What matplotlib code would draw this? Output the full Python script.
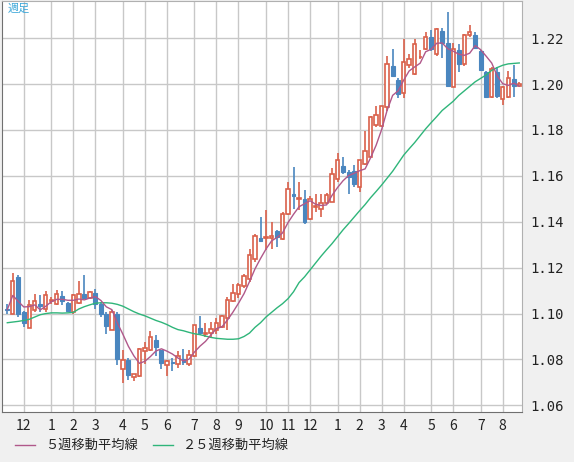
import matplotlib
matplotlib.use("Agg")
import matplotlib.pyplot as plt
import numpy as np
import pandas as pd

plt.rcParams['font.family'] = ['Noto Sans CJK JP', 'DejaVu Sans']

opens = [1.1022,1.0996,1.1160,1.1007,1.0935,1.1017,1.1040,1.1022,1.1055,1.1043,1.1075,1.1046,1.1007,1.1048,1.1087,1.1068,1.1090,1.1043,1.1000,1.0928,
         1.1000,1.0758,1.0796,1.0722,1.0729,1.0838,1.0839,1.0885,1.0842,1.0777,1.0789,1.0780,1.0801,1.0780,1.0816,1.0939,1.0912,1.0914,1.0929,1.0943,
         1.0980,1.1055,1.1085,1.1120,1.1149,1.1238,1.1330,1.1330,1.1330,1.1358,1.1326,1.1435,1.1522,1.1499,1.1500,1.1413,1.1464,1.1457,1.1481,1.1486,
         1.1587,1.1645,1.1616,1.1623,1.1551,1.1652,1.1684,1.1823,1.1819,1.1899,1.2080,1.2017,1.1959,1.2083,1.2046,1.2116,1.2152,1.2206,1.2130,1.2232,
         1.2178,1.1988,1.2148,1.2087,1.2213,1.2214,1.2145,1.2051,1.1945,1.2051,1.1935,1.1945,1.2022,1.1993]
closes = [1.1017,1.1141,1.1000,1.0957,1.1036,1.1054,1.1033,1.1080,1.1056,1.1087,1.1054,1.1012,1.1080,1.1084,1.1068,1.1094,1.1043,1.0996,1.0945,1.1007,
          1.0804,1.0797,1.0733,1.0736,1.0845,1.0849,1.0900,1.0854,1.0784,1.0794,1.0786,1.0813,1.0791,1.0820,1.0951,1.0914,1.0917,1.0933,1.0958,1.0991,
          1.1060,1.1091,1.1125,1.1165,1.1255,1.1338,1.1316,1.1332,1.1340,1.1333,1.1435,1.1543,1.1512,1.1504,1.1399,1.1500,1.1468,1.1483,1.1517,1.1609,
          1.1670,1.1616,1.1594,1.1565,1.1667,1.1710,1.1858,1.1867,1.1906,1.2087,1.2036,1.1957,1.2097,1.2109,1.2174,1.2118,1.2206,1.2152,1.2239,1.2181,
          1.1993,1.2152,1.2087,1.2213,1.2228,1.2159,1.2061,1.1945,1.2065,1.1949,1.1988,1.2025,1.1993,1.1999]
highs = [1.1043,1.1177,1.1167,1.1010,1.1058,1.1084,1.1080,1.1097,1.1070,1.1101,1.1097,1.1050,1.1087,1.1143,1.1170,1.1098,1.1109,1.1050,1.1007,1.1014,
         1.1007,1.0840,1.0806,1.0736,1.0852,1.0878,1.0922,1.0907,1.0842,1.0799,1.0806,1.0838,1.0845,1.0842,1.0951,1.0990,1.0958,1.0965,1.0980,1.0994,
         1.1074,1.1128,1.1132,1.1171,1.1280,1.1345,1.1419,1.1450,1.1400,1.1362,1.1442,1.1572,1.1638,1.1572,1.1539,1.1514,1.1522,1.1522,1.1526,1.1635,
         1.1699,1.1681,1.1626,1.1649,1.1670,1.1797,1.1862,1.1906,1.1906,1.2123,1.2152,1.2025,1.2196,1.2130,1.2196,1.2148,1.2229,1.2236,1.2246,1.2243,
         1.2316,1.2181,1.2174,1.2217,1.2258,1.2225,1.2150,1.2055,1.2075,1.2075,1.1990,1.2058,1.2083,1.2008]
lows = [1.1000,1.0996,1.0986,1.0940,1.0935,1.1007,1.1007,1.1007,1.1040,1.1036,1.1036,1.1007,1.1000,1.1043,1.1064,1.1064,1.1020,1.0986,1.0910,1.0928,
        1.0775,1.0696,1.0712,1.0704,1.0723,1.0781,1.0835,1.0817,1.0758,1.0729,1.0748,1.0762,1.0777,1.0770,1.0809,1.0907,1.0900,1.0893,1.0910,1.0939,
        1.0929,1.1052,1.1067,1.1110,1.1139,1.1226,1.1313,1.1275,1.1283,1.1290,1.1319,1.1428,1.1457,1.1450,1.1391,1.1406,1.1442,1.1420,1.1478,1.1486,
        1.1572,1.1609,1.1522,1.1551,1.1529,1.1649,1.1681,1.1812,1.1812,1.1884,1.2029,1.1939,1.1939,1.2072,1.2039,1.2110,1.2148,1.2145,1.2123,1.2113,
        1.1986,1.1986,1.2051,1.2080,1.2206,1.2152,1.2058,1.1942,1.1939,1.1939,1.1909,1.1939,1.1942,1.1990]
ma25 = [1.0960,1.0963,1.0966,1.0970,1.0975,1.0985,1.0995,1.1000,1.1003,1.1003,1.1002,1.1003,1.1005,1.1020,1.1030,1.1038,1.1045,1.1047,1.1047,1.1045,
        1.1040,1.1032,1.1020,1.1008,1.0998,1.0990,1.0980,1.0970,1.0962,1.0952,1.0940,1.0930,1.0925,1.0918,1.0912,1.0908,1.0902,1.0896,1.0892,1.0890,
        1.0888,1.0888,1.0890,1.0900,1.0915,1.0940,1.0960,1.0985,1.1005,1.1025,1.1043,1.1065,1.1095,1.1135,1.1160,1.1190,1.1220,1.1250,1.1278,1.1305,
        1.1335,1.1365,1.1392,1.1420,1.1448,1.1475,1.1505,1.1532,1.1560,1.1590,1.1620,1.1655,1.1690,1.1718,1.1745,1.1775,1.1805,1.1832,1.1858,1.1885,
        1.1905,1.1925,1.1950,1.1970,1.1990,1.2010,1.2025,1.2040,1.2060,1.2072,1.2082,1.2088,1.2090,1.2092]
tick_idx = [3,8,12,16,21,25,29,34,38,42,47,51,55,60,64,68,72,77,81,86,90]
tick_labels = ['12','1','2','3','4','5','6','7','8','9','10','11','12','1','2','3','4','5','6','7','8']
y_ticks = [1.06,1.08,1.10,1.12,1.14,1.16,1.18,1.20,1.22]

ma5 = pd.Series(closes).rolling(5, min_periods=1).mean()

RED = '#d9604a'; BLUE = '#4a86bf'
fig = plt.figure(figsize=(5.74,4.62), dpi=100)
fig.patch.set_facecolor('#f0f0f0')
ax = fig.add_axes([2/574, 50/462, 520/574, 411/462])
ax.set_facecolor('white')
n = len(closes)
x = np.arange(n)
ax.grid(True, color='#c8c8c8', lw=1)
ax.set_axisbelow(True)
for i in range(n):
    o, c, h, l = opens[i], closes[i], highs[i], lows[i]
    up = c >= o
    col = RED if up else BLUE
    top, bot = max(o, c), min(o, c)
    ax.vlines(x[i], top, h, color=col, lw=1.2, zorder=2)
    ax.vlines(x[i], l, bot, color=col, lw=1.2, zorder=2)
    hgt = max(top - bot, 0.0002)
    if up:
        ax.add_patch(plt.Rectangle((x[i]-0.3, bot), 0.6, hgt, facecolor='white', edgecolor=col, lw=1.2, zorder=3))
    else:
        ax.add_patch(plt.Rectangle((x[i]-0.35, bot), 0.7, hgt, facecolor=col, edgecolor=col, lw=0.8, zorder=3))
ax.plot(x, ma25, color='#2fb57a', lw=1, zorder=4)
ax.plot(x, ma5, color='#b0588a', lw=1, zorder=4)
ax.set_xlim(-0.96, 93.5)
ax.set_ylim(1.0571, 1.2362)
ax.set_xticks(tick_idx)
ax.set_xticklabels(tick_labels, fontsize=10)
ax.set_yticks(y_ticks)
ax.set_yticklabels([f'{v:.2f}' for v in y_ticks], fontsize=10, family='DejaVu Sans Mono')
ax.yaxis.tick_right()
ax.tick_params(length=0, pad=6, colors='#222222')
ax.tick_params(axis='x', pad=5)
for s in ['top','right']:
    ax.spines[s].set_color('#b0b0b0')
ax.spines['left'].set_color('#707070')
ax.spines['bottom'].set_color('#707070')
ax.text(0.01, 0.995, '週足', transform=ax.transAxes, color='#3aa6d8', fontsize=8, va='top', ha='left')
fig.lines.append(plt.Line2D([15/574, 35/574], [1-445/462]*2, color='#b0588a', lw=1, transform=fig.transFigure))
fig.text(45/574, 1-445/462, '５週移動平均線', fontsize=9.5, va='center', color='#222222')
fig.lines.append(plt.Line2D([153/574, 173/574], [1-445/462]*2, color='#2fb57a', lw=1, transform=fig.transFigure))
fig.text(183/574, 1-445/462, '２５週移動平均線', fontsize=9.5, va='center', color='#222222')
fig.savefig('out.png', dpi=100, facecolor=fig.get_facecolor())
